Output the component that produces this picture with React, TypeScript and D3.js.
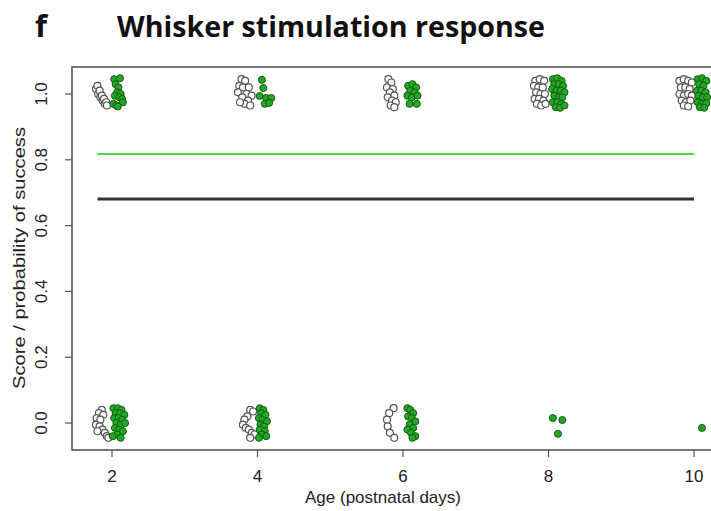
import React from "react";
import * as d3 from "d3";

const ageTicks = [2, 4, 6, 8, 10];
const scoreTicks = [0, 0.2, 0.4, 0.6, 0.8, 1.0];

// fitted probability of success (horizontal lines)
const controlProbability = 0.681;
const treatedProbability = 0.818;
const lineAgeRange = [1.8, 10];

// jittered observations: [age, score]
const controlPoints: [number, number][] = [
  // day 2
  [1.78, 1.015], [1.8, 1.025], [1.81, 1.0], [1.83, 1.01], [1.84, 0.99], [1.86, 0.995], [1.87, 0.98], [1.89, 0.985], [1.9, 0.97], [1.92, 0.975], [1.93, 0.965],
  [1.86, 0.04], [1.82, 0.03], [1.88, 0.025], [1.79, 0.015], [1.84, 0.01], [1.78, -0.005], [1.83, -0.01], [1.87, -0.02], [1.8, -0.025], [1.9, -0.03], [1.93, -0.04], [1.95, -0.045],
  // day 4
  [3.78, 1.045], [3.83, 1.04], [3.75, 1.025], [3.8, 1.02], [3.88, 1.02], [3.73, 1.005], [3.85, 1.0], [3.92, 0.995], [3.79, 0.99], [3.87, 0.98], [3.82, 0.97], [3.76, 0.975], [3.9, 0.965],
  [3.9, 0.04], [3.94, 0.035], [3.86, 0.02], [3.82, 0.01], [3.8, -0.005], [3.84, -0.015], [3.88, -0.02], [3.92, -0.03], [3.96, -0.035], [3.9, -0.045],
  // day 6
  [5.8, 1.045], [5.84, 1.035], [5.78, 1.02], [5.86, 1.015], [5.82, 1.005], [5.88, 0.995], [5.79, 0.99], [5.85, 0.98], [5.9, 0.975], [5.83, 0.965], [5.88, 0.96],
  [5.87, 0.045], [5.81, 0.03], [5.78, 0.01], [5.79, -0.01], [5.82, -0.03], [5.88, -0.045],
  // day 8
  [7.82, 1.04], [7.88, 1.045], [7.94, 1.04], [7.8, 1.025], [7.86, 1.02], [7.92, 1.02], [7.83, 1.005], [7.89, 1.0], [7.95, 1.0], [7.81, 0.985], [7.87, 0.985], [7.93, 0.98], [7.84, 0.97], [7.9, 0.965], [7.96, 0.97],
  // day 10
  [9.8, 1.04], [9.86, 1.045], [9.92, 1.04], [9.97, 1.035], [9.82, 1.02], [9.88, 1.02], [9.94, 1.015], [9.8, 1.0], [9.86, 0.995], [9.92, 1.0], [9.97, 0.995], [9.83, 0.98], [9.89, 0.975], [9.95, 0.98], [9.86, 0.965], [9.92, 0.962],
];

const treatedPoints: [number, number][] = [
  // day 2
  [2.03, 1.045], [2.11, 1.048], [2.05, 1.03], [2.09, 1.02], [2.07, 1.005], [2.04, 0.995], [2.12, 1.0], [2.1, 0.99], [2.14, 0.985], [2.02, 0.97], [2.06, 0.965], [2.15, 0.975], [2.08, 0.962],
  [2.02, 0.045], [2.08, 0.045], [2.13, 0.04], [2.05, 0.03], [2.11, 0.03], [2.17, 0.025], [2.03, 0.015], [2.09, 0.015], [2.14, 0.01], [2.06, 0.0], [2.12, -0.005], [2.18, 0.0], [2.04, -0.015], [2.1, -0.02], [2.15, -0.025], [2.07, -0.035], [2.01, -0.04], [2.12, -0.045],
  // day 4
  [4.06, 1.043], [4.08, 1.018], [4.03, 0.994], [4.12, 0.988], [4.19, 0.988], [4.1, 0.97], [4.16, 0.973],
  [4.03, 0.045], [4.08, 0.04], [4.05, 0.03], [4.11, 0.025], [4.02, 0.015], [4.07, 0.01], [4.13, 0.005], [4.04, -0.005], [4.09, -0.01], [4.03, -0.02], [4.1, -0.025], [4.06, -0.035], [4.12, -0.04], [4.02, -0.045],
  // day 6
  [6.07, 1.025], [6.13, 1.03], [6.18, 1.02], [6.1, 1.01], [6.16, 1.005], [6.06, 0.995], [6.12, 0.99], [6.2, 0.995], [6.09, 0.97], [6.19, 0.97],
  [6.06, 0.045], [6.1, 0.04], [6.14, 0.03], [6.07, 0.02], [6.12, 0.015], [6.17, 0.005], [6.09, -0.005], [6.14, -0.015], [6.06, -0.02], [6.11, -0.03], [6.17, -0.04], [6.13, -0.045],
  // day 8
  [8.06, 1.045], [8.12, 1.048], [8.18, 1.04], [8.08, 1.03], [8.14, 1.03], [8.2, 1.025], [8.05, 1.015], [8.11, 1.01], [8.17, 1.01], [8.22, 1.005], [8.08, 0.995], [8.14, 0.99], [8.19, 0.99], [8.06, 0.975], [8.12, 0.975], [8.18, 0.97], [8.1, 0.96], [8.16, 0.958], [8.22, 0.965],
  [8.06, 0.015], [8.19, 0.009], [8.13, -0.033],
  // day 10
  [10.05, 1.045], [10.11, 1.048], [10.17, 1.04], [10.07, 1.03], [10.13, 1.025], [10.04, 1.01], [10.1, 1.01], [10.16, 1.005], [10.06, 0.995], [10.12, 0.99], [10.18, 0.99], [10.05, 0.975], [10.11, 0.97], [10.17, 0.972], [10.08, 0.96], [10.14, 0.958],
  [10.11, -0.015],
];

const W = 711;
const H = 511;
const frame = { left: 72, top: 67, right: 730, bottom: 450 };

export default function App() {
  const x = d3.scaleLinear().domain([2, 10]).range([112, 694]);
  const y = d3.scaleLinear().domain([0, 1]).range([423, 94]);
  const font = "'Liberation Sans', Arial, sans-serif";

  return (
    <svg
      width={W}
      height={H}
      style={{ position: "absolute", left: 0, top: 0, background: "#fff" }}
    >
      <rect x={0} y={0} width={W} height={H} fill="#fff" />
      {/* title */}
      <text x={35} y={37} fontFamily="'Open Sans', sans-serif" fontWeight={700} fontSize={31} fill="#111">
        f
      </text>
      <text
        x={117}
        y={37}
        fontFamily="'Open Sans', sans-serif"
        fontWeight={700}
        fontSize={28}
        fill="#111"
        textLength={428}
        lengthAdjust="spacingAndGlyphs"
      >
        Whisker stimulation response
      </text>

      {/* frame */}
      <rect
        x={frame.left}
        y={frame.top}
        width={frame.right - frame.left}
        height={frame.bottom - frame.top}
        fill="none"
        stroke="#555"
        strokeWidth={1.6}
      />

      {/* y axis */}
      {scoreTicks.map((t) => (
        <g key={"y" + t}>
          <line x1={frame.left - 7} x2={frame.left} y1={y(t)} y2={y(t)} stroke="#555" strokeWidth={1.2} />
          <text
            transform={`translate(${47},${y(t)}) rotate(-90)`}
            textAnchor="middle"
            fontFamily={font}
            fontSize={17}
            fill="#222"
          >
            {t.toFixed(1)}
          </text>
        </g>
      ))}
      <text
        transform={`translate(${25},${258}) rotate(-90)`}
        textAnchor="middle"
        fontFamily={font}
        fontSize={17}
        fill="#222"
        textLength={262}
        lengthAdjust="spacingAndGlyphs"
      >
        Score / probability of success
      </text>

      {/* x axis */}
      {ageTicks.map((t) => (
        <g key={"x" + t}>
          <line x1={x(t)} x2={x(t)} y1={frame.bottom} y2={frame.bottom + 7} stroke="#555" strokeWidth={1.2} />
          <text x={x(t)} y={482} textAnchor="middle" fontFamily={font} fontSize={17} fill="#222">
            {t}
          </text>
        </g>
      ))}
      <text x={383} y={503} textAnchor="middle" fontFamily={font} fontSize={17} fill="#222">
        Age (postnatal days)
      </text>

      {/* fitted lines */}
      <line
        x1={x(lineAgeRange[0])}
        x2={x(lineAgeRange[1])}
        y1={y(treatedProbability)}
        y2={y(treatedProbability)}
        stroke="#3fe03f"
        strokeWidth={2}
      />
      <line
        x1={x(lineAgeRange[0])}
        x2={x(lineAgeRange[1])}
        y1={y(controlProbability)}
        y2={y(controlProbability)}
        stroke="#333"
        strokeWidth={3}
      />

      {/* points */}
      {controlPoints.map(([a, s], i) => (
        <circle key={"c" + i} cx={x(a)} cy={y(s)} r={3.5} fill="#fff" stroke="#555" strokeWidth={1.2} />
      ))}
      {treatedPoints.map(([a, s], i) => (
        <circle key={"t" + i} cx={x(a)} cy={y(s)} r={3.5} fill="#22a822" stroke="#155a15" strokeWidth={1} />
      ))}
    </svg>
  );
}
